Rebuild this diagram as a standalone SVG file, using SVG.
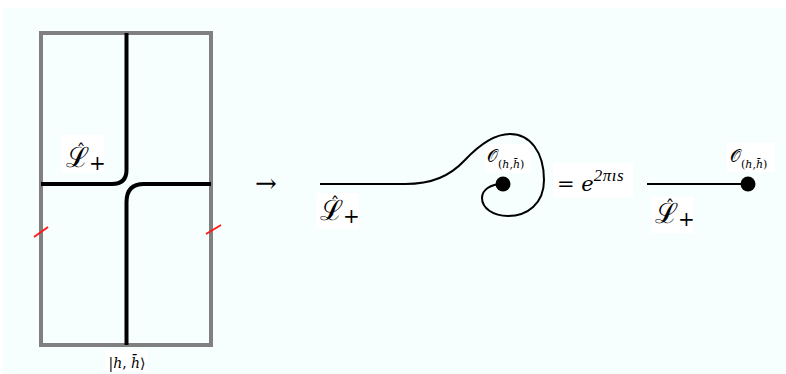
<svg xmlns="http://www.w3.org/2000/svg" width="786" height="374" viewBox="0 0 786 374">
<style>
.bg{fill:#f6fefe}
.lbl{fill:#ffffff}
.wire{fill:none;stroke:#000;stroke-width:4;stroke-linecap:butt}
.thin{fill:none;stroke:#000;stroke-width:2}
.tick{stroke:#ff1a1a;stroke-width:2}
.m{font-family:"DejaVu Serif","Liberation Serif",serif;fill:#000}
.it{font-style:italic}
.sup{font-family:"Liberation Serif","DejaVu Serif",serif;font-style:italic}
</style>
<rect x="0" y="0" width="786" height="374" fill="#ffffff"/>
<rect class="bg" x="3" y="8" width="783" height="366"/>

<g id="cylinder">
<rect x="41" y="33" width="170" height="312" fill="none" stroke="#808080" stroke-width="4"/>
</g>

<g id="connectors">
<path class="wire" d="M126.5,33 L126.5,170 Q126.5,184 112,184 L41,184"/>
<path class="wire" d="M211,184 L144,184 Q126.5,184 126.5,202 L126.5,345"/>
<line class="tick" x1="34" y1="237" x2="48" y2="227"/>
<line class="tick" x1="206" y1="234" x2="221" y2="225"/>
<path class="thin" d="M320,184 L405,184 C432,184 450,176 465,160 C481,143 495,134 510,134 C530,134 544,152 544,180 C544,204 527,216 508,216 C493,216 482,208 482,198 C482,190 490,184 503,184"/>
<line class="thin" x1="647" y1="184" x2="748" y2="184"/>
</g>

<g id="label-L-left">
<rect class="lbl" x="61" y="135" width="43" height="38"/>
<text class="m" x="66" y="167" font-size="28">ℒ<tspan font-size="18" dx="-12.5" dy="-9">ˆ</tspan><tspan font-size="20" dx="3.5" dy="12">+</tspan></text>
</g>

<g id="label-state">
<rect class="lbl" x="105" y="350" width="43" height="22"/>
<text class="m" x="127" y="368" font-size="14" text-anchor="middle">|<tspan class="it">h</tspan>, <tspan class="it">h̄</tspan>⟩</text>
</g>

<g id="arrow">
<text class="m" x="266" y="192" font-size="26" text-anchor="middle">→</text>
</g>

<g id="operator-mid">
<circle cx="503" cy="184" r="7.5" fill="#000"/>
<rect class="lbl" x="485" y="144" width="46" height="29"/>
<text class="m" x="487" y="162" font-size="17">𝒪<tspan font-size="11" dy="6">(<tspan class="it">h</tspan>,<tspan class="it">h̄</tspan>)</tspan></text>
</g>

<g id="label-L-mid">
<rect class="lbl" x="316" y="193" width="43" height="36"/>
<text class="m" x="320" y="220" font-size="28">ℒ<tspan font-size="18" dx="-12.5" dy="-9">ˆ</tspan><tspan font-size="20" dx="3.5" dy="12">+</tspan></text>
</g>

<g id="equation">
<rect class="lbl" x="553" y="163" width="80" height="35"/>
<text class="m" x="557" y="191" font-size="21">= <tspan class="it">e</tspan><tspan class="sup" font-size="17" dy="-10" letter-spacing="0.5">2πıs</tspan></text>
</g>

<g id="operator-right">
<circle cx="748" cy="184" r="7.5" fill="#000"/>
<rect class="lbl" x="727" y="143" width="48" height="29"/>
<text class="m" x="730" y="162" font-size="17">𝒪<tspan font-size="11" dy="6">(<tspan class="it">h</tspan>,<tspan class="it">h̄</tspan>)</tspan></text>
</g>

<g id="label-L-right">
<rect class="lbl" x="651" y="197" width="43" height="36"/>
<text class="m" x="655" y="223" font-size="28">ℒ<tspan font-size="18" dx="-12.5" dy="-9">ˆ</tspan><tspan font-size="20" dx="3.5" dy="12">+</tspan></text>
</g>
</svg>
